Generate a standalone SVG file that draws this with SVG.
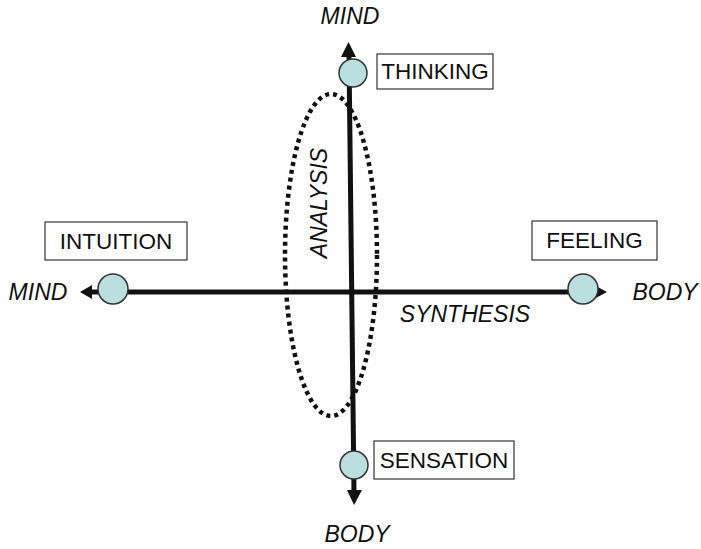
<svg xmlns="http://www.w3.org/2000/svg" width="701" height="549" viewBox="0 0 701 549">
<defs>
<style>
.box{fill:#fff;stroke:#333;stroke-width:1.2}
.lbl{font-family:"Liberation Sans",Arial,sans-serif;font-size:22.5px;fill:#111;text-anchor:middle}
.it{font-family:"Liberation Sans",Arial,sans-serif;font-size:23px;font-style:italic;fill:#111;text-anchor:middle}
.axis{stroke:#111;stroke-width:5;fill:none}
.dot{fill:#b9dfe1;stroke:#333;stroke-width:1.5}
.ah{fill:#111}
</style>
</defs>
<rect width="701" height="549" fill="#fff"/>
<g id="connectors">
<line class="axis" x1="88" y1="292" x2="596" y2="292"/>
<line class="axis" x1="349" y1="56" x2="354" y2="492"/>
<polygon class="ah" points="80,292 92,285 92,299"/>
<polygon class="ah" points="607,292 594,285 594,299"/>
<polygon class="ah" points="348.5,42 341,57 356,57"/>
<polygon class="ah" points="354,505 347,490 362,490"/>
<ellipse cx="331" cy="255" rx="46" ry="161" fill="none" stroke="#111" stroke-width="4.5" stroke-dasharray="4 4"/>
</g>
<g id="thinking">
<circle class="dot" cx="353" cy="73" r="14"/>
<rect class="box" x="377" y="54" width="116" height="35"/>
<text class="lbl" x="435" y="79">THINKING</text>
</g>
<g id="intuition">
<circle class="dot" cx="113" cy="289" r="15"/>
<rect class="box" x="45" y="222" width="142" height="38"/>
<text class="lbl" x="116" y="249">INTUITION</text>
</g>
<g id="feeling">
<circle class="dot" cx="583" cy="289" r="15"/>
<rect class="box" x="532" y="221" width="125" height="39"/>
<text class="lbl" x="594.5" y="248">FEELING</text>
</g>
<g id="sensation">
<circle class="dot" cx="354" cy="465" r="14"/>
<rect class="box" x="374" y="441" width="140" height="38"/>
<text class="lbl" x="444" y="468">SENSATION</text>
</g>
<g id="labels">
<text class="it" x="350" y="24">MIND</text>
<text class="it" x="357" y="542">BODY</text>
<text class="it" x="38" y="300">MIND</text>
<text class="it" x="665" y="300">BODY</text>
<text class="it" x="465" y="322">SYNTHESIS</text>
<text class="it" transform="translate(327,203) rotate(-90)" x="0" y="0">ANALYSIS</text>
</g>
</svg>
